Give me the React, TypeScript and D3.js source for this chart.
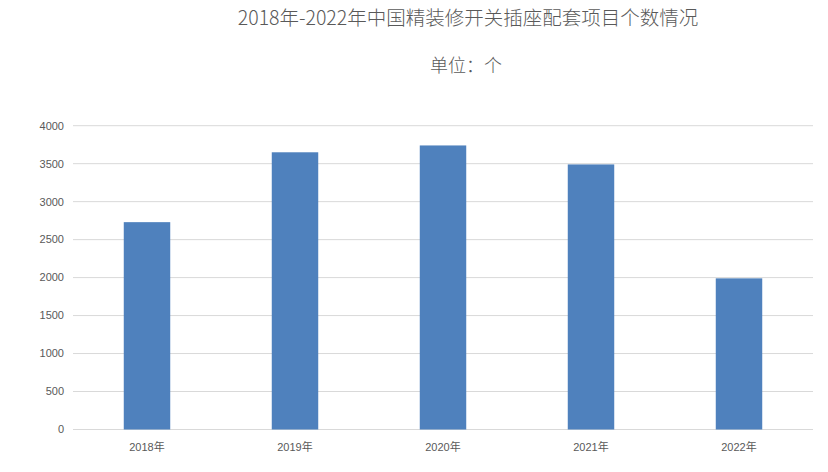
import React from "react";
import * as d3 from "d3";

const categories = ["2018年", "2019年", "2020年", "2021年", "2022年"];
const values = [2730, 3650, 3740, 3490, 1990];
const yTicks = [0, 500, 1000, 1500, 2000, 2500, 3000, 3500, 4000];
const title = "2018年-2022年中国精装修开关插座配套项目个数情况";
const subtitle = "单位：个";

const W = 828;
const H = 472;
const plot = { left: 73, right: 813, top: 125.7, bottom: 429.5 };

export default function App() {
  const x = d3
    .scaleBand<string>()
    .domain(categories)
    .range([plot.left, plot.right])
    .paddingInner(0.686)
    .paddingOuter(0.343);
  const y = d3.scaleLinear().domain([0, 4000]).range([plot.bottom, plot.top]);
  const font = "'Liberation Sans', 'Noto Sans CJK SC', sans-serif";
  return (
    <svg
      width={W}
      height={H}
      style={{ position: "absolute", left: 0, top: 0, background: "#fff" }}
    >
      <text
        x={468}
        y={25}
        textAnchor="middle"
        fontSize={19.5}
        fill="#595959"
        fontFamily="'Noto Sans CJK SC', sans-serif"
        fontWeight={300}
      >
        {title}
      </text>
      <text
        x={466}
        y={72}
        textAnchor="middle"
        fontSize={18}
        fill="#595959"
        fontFamily="'Noto Sans CJK SC', sans-serif"
        fontWeight={300}
      >
        {subtitle}
      </text>
      {yTicks.map((t) => (
        <g key={t}>
          <line
            x1={plot.left}
            x2={plot.right}
            y1={y(t)}
            y2={y(t)}
            stroke="#d9d9d9"
            strokeWidth={1}
          />
          <text
            x={64}
            y={y(t)}
            dy="0.35em"
            textAnchor="end"
            fontSize={11}
            fill="#595959"
            fontFamily={font}
          >
            {t}
          </text>
        </g>
      ))}
      {categories.map((c, i) => (
        <g key={c}>
          <rect
            x={x(c)}
            y={y(values[i])}
            width={x.bandwidth()}
            height={y(0) - y(values[i])}
            fill="#4f81bd"
          />
          <text
            x={(x(c) as number) + x.bandwidth() / 2}
            y={451}
            textAnchor="middle"
            fontSize={11}
            fill="#595959"
            fontFamily={font}
          >
            {c}
          </text>
        </g>
      ))}
    </svg>
  );
}
